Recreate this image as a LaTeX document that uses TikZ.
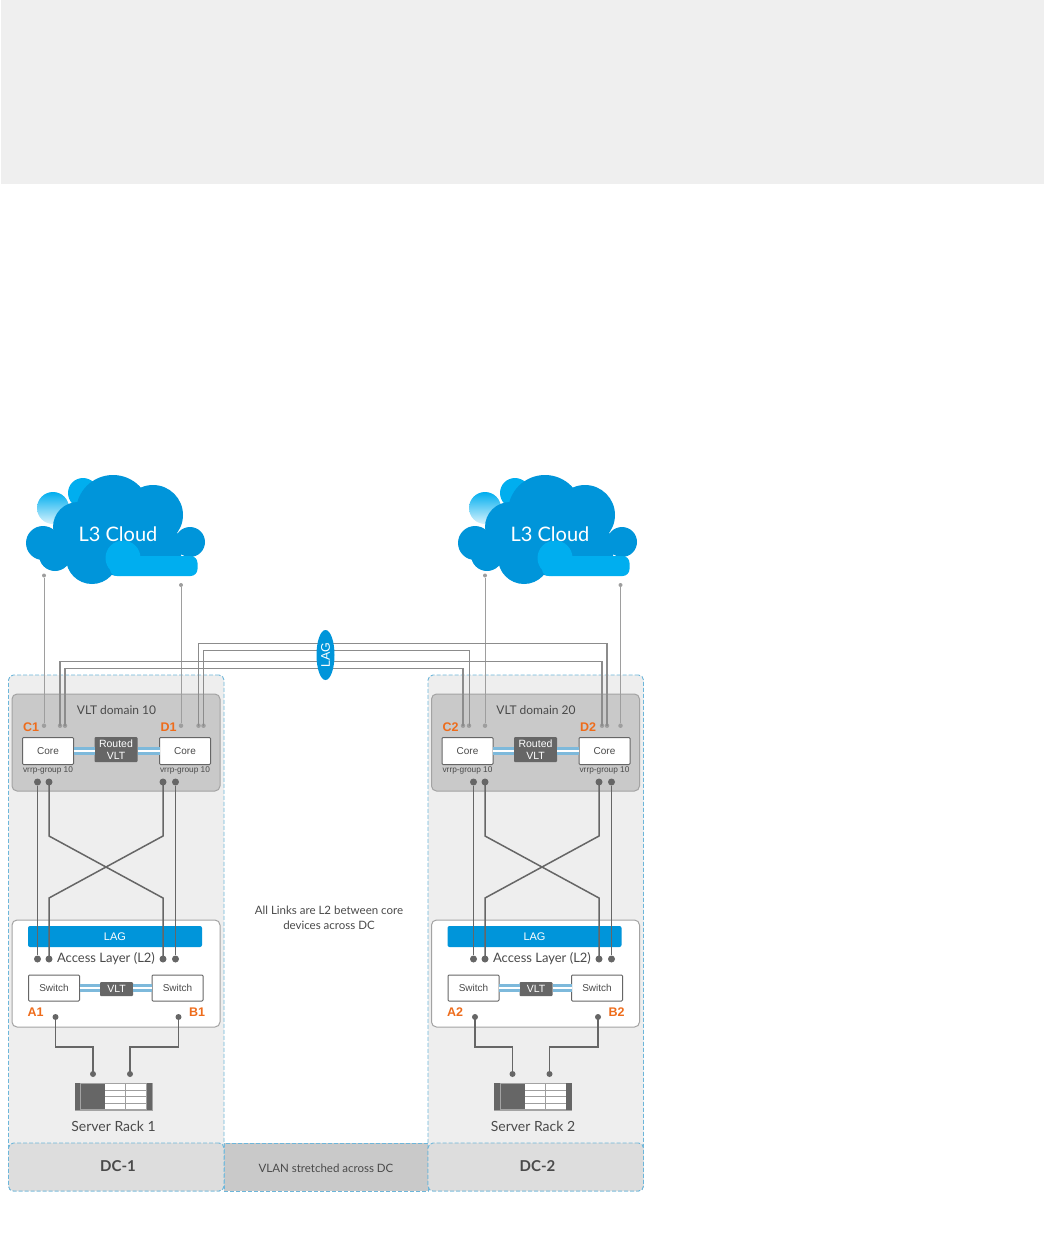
\documentclass[tikz,border=0pt]{standalone}
\usepackage{fontspec}
\setmainfont{Lato}
\newfontfamily\arialfont{Liberation Sans}
\usetikzlibrary{calc, shapes.geometric}
\definecolor{bandfill}{HTML}{EFEFEF}
\definecolor{dashline}{HTML}{6DB6DA}
\definecolor{panelfill}{HTML}{EEEEEE}
\definecolor{bandgray}{HTML}{DDDDDD}
\definecolor{midgray}{HTML}{C9C9C9}
\definecolor{boxline}{HTML}{A3A3A3}
\definecolor{cloudblue}{HTML}{0095DA}
\definecolor{cloudlight}{HTML}{00AEEF}
\definecolor{orangelbl}{HTML}{EE6C1B}
\definecolor{wiredark}{HTML}{666666}
\definecolor{wiremid}{HTML}{8C8C8C}
\definecolor{wirelight}{HTML}{9E9E9E}
\definecolor{textgray}{HTML}{4A4A4A}
\definecolor{vltblue}{HTML}{7DB9DB}
\tikzset{
  sized/.style  = {rectangle, inner sep=0pt, outer sep=0pt, minimum width=#1},
  panel/.style  = {sized=215.5pt, minimum height=516pt, rounded corners=5pt, fill=panelfill,
                   draw=dashline, line width=0.9pt, dash pattern=on 4pt off 2pt},
  dcband/.style = {sized=215.5pt, minimum height=48pt, rounded corners=5pt, fill=bandgray,
                   draw=dashline, line width=0.9pt, dash pattern=on 4pt off 2pt},
  vltdomain/.style = {sized=208pt, minimum height=97pt, rounded corners=5pt, fill=midgray,
                   draw=boxline, line width=1pt},
  accessbox/.style = {sized=208pt, minimum height=107pt, rounded corners=5pt, fill=white,
                   draw=boxline, line width=1pt},
  dev/.style    = {sized=#1, minimum height=27pt, rounded corners=1pt, fill=white,
                   draw=wiredark, line width=1pt, font=\arialfont\fontsize{10}{12}\selectfont, text=textgray},
  vltbox/.style = {sized=#1, rounded corners=1pt, fill=wiredark, text=white, align=center,
                   font=\arialfont\fontsize{10.5}{11.5}\selectfont},
  lagbar/.style = {sized=174pt, minimum height=21pt, rounded corners=2pt, fill=cloudblue, text=white,
                   font=\arialfont\fontsize{11}{13}\selectfont},
  orangetag/.style = {font=\arialfont\bfseries\fontsize{12.5}{14}\selectfont, text=orangelbl},
  lbl/.style    = {font=\fontsize{#1}{14.5}\selectfont, text=textgray, align=center},
  vrrp/.style   = {font=\arialfont\fontsize{8.3}{10}\selectfont, text=textgray},
  bigdot/.style = {circle, fill=wiredark, minimum size=7pt, inner sep=0pt},
  smalldot/.style = {circle, fill=wirelight, minimum size=4.5pt, inner sep=0pt},
  wirelink/.style = {line width=#1, draw=wiredark},
  laglink/.style = {line width=#1, draw=wiremid},
  uplink/.style = {line width=1pt, draw=wirelight},
  vltlink/.style = {draw=vltblue, line width=3.6pt, double=white, double distance=1.3pt},
}
\begin{document}
\begin{tikzpicture}[x=1pt, y=-1pt]
	\useasboundingbox (0,0) rectangle (1044,1242);
	\node[sized=1043pt, minimum height=184pt, fill=bandfill] (topband) at (522.5,92) {};
	\node[sized=204pt, minimum height=48pt, fill=midgray, draw=dashline, line width=0.9pt, dash pattern=on 4pt off 2pt] (vlanband) at (326,1167) {};
	\foreach \dc/\dx/\lx/\cx/\upc/\cpa/\cpb/\upd/\dpa/\dpb/\dom/\lw in {
		1/0/0/0/44/60/65/181/198.5/203.5/10/1,
		2/419.5/16.5/432/65.5/43.5/49.5/201/182.5/187.5/20/1.8}{
		\begin{scope}[shift={(\dx,0)}]
			\node[panel] (panel\dc) at (116.25,933) {};
			\node[dcband] (dcband\dc) at (116.25,1167) {};
			\node[vltdomain] (domain\dc) at (116,742.5) {};
			\node[accessbox] (access\dc) at (116,973.5) {};
			\node[lbl=12] (domlbl\dc) at (116.5,710.5) {VLT domain \dom};
			\node[dev=51pt] (corea\dc) at (48,751) {Core};
			\node[dev=51pt] (coreb\dc) at (185,751) {Core};
			\node[vltbox=43pt, minimum height=25pt] (rvlt\dc) at (116,749.5) {Routed\\VLT};
			\draw[vltlink] (corea\dc.east) -- (rvlt\dc.west |- corea\dc.east);
			\draw[vltlink] (rvlt\dc.east |- coreb\dc.west) -- (coreb\dc.west);
			\node[orangetag] (tagc\dc) at (31,727.5) {C\dc};
			\node[orangetag] (tagd\dc) at (168.5,727.5) {D\dc};
			\node[vrrp] (vrrpa\dc) at (48,770) {vrrp-group 10};
			\node[vrrp] (vrrpb\dc) at (185,770) {vrrp-group 10};
			\node[smalldot] (upc\dc) at (\upc,725.7) {};
			\node[smalldot] (cpa\dc) at (\cpa,725.7) {};
			\node[smalldot] (cpb\dc) at (\cpb,725.7) {};
			\node[smalldot] (upd\dc) at (\upd,725.7) {};
			\node[smalldot] (dpa\dc) at (\dpa,725.7) {};
			\node[smalldot] (dpb\dc) at (\dpb,725.7) {};
			\node[lagbar] (lag\dc) at (115,936.5) {LAG};
			\node[lbl=13] (acclbl\dc) at (106+\lx,958.5) {Access Layer (L2)};
			\node[dev=51pt, minimum height=26pt] (swa\dc) at (54,988) {Switch};
			\node[dev=51pt, minimum height=26pt] (swb\dc) at (177.5,988) {Switch};
			\node[vltbox=33pt, minimum height=14pt] (swvlt\dc) at (116.5,989) {VLT};
			\draw[vltlink] (swa\dc.east) -- (swvlt\dc.west |- swa\dc.east);
			\draw[vltlink] (swvlt\dc.east |- swb\dc.west) -- (swb\dc.west);
			\node[orangetag] (taga\dc) at (35.5,1012.5) {A\dc};
			\node[orangetag] (tagb\dc) at (197,1012.5) {B\dc};
			\node[bigdot, minimum size=6pt] (swda\dc) at (55.5,1017) {};
			\node[bigdot, minimum size=6pt] (swdb\dc) at (178.5,1017) {};
			\node[bigdot, minimum size=6pt] (rka\dc) at (93,1074) {};
			\node[bigdot, minimum size=6pt] (rkb\dc) at (130,1074) {};
			\draw[wirelink=1.5pt] (swda\dc.center) -- ++(0,30) -| (rka\dc.center);
			\draw[wirelink=1.5pt] (swdb\dc.center) -- ++(0,30) -| (rkb\dc.center);
			\node[sized=78pt, minimum height=28pt, fill=boxline] (rack\dc) at (113.5,1096.5) {};
			\node[sized=5.5pt, minimum height=27pt, fill=wiredark] (eara\dc) at (77.5,1096.5) {};
			\node[sized=5.5pt, minimum height=27pt, fill=wiredark] (earb\dc) at (149.5,1096.5) {};
			\node[sized=65pt, minimum height=25pt, fill=white] (rackin\dc) at (113.5,1096.5) {};
			\node[sized=24pt, minimum height=25pt, fill=wiredark] (rackdk\dc) at (93,1096.5) {};
			\foreach \ry in {1090.5,1096,1103}{
				\draw[line width=0.9pt, draw=wirelight] (105,\ry) -- (146,\ry);
			}
			\draw[line width=0.9pt, draw=wirelight] (125.7,1084) -- (125.7,1109);
			\node[lbl=14] (racklbl\dc) at (113.5,1126) {Server Rack \dc};
			\node[lbl=15] (dclbl\dc) at (118,1166) {\textbf{DC-\dc}};
			\node[bigdot] (ta\dc) at (37.5+\lx,782) {};
			\node[bigdot] (tb\dc) at (49+\lx,782) {};
			\node[bigdot] (tc\dc) at (163+\lx,782) {};
			\node[bigdot] (td\dc) at (175.5+\lx,782) {};
			\node[bigdot] (ba\dc) at (37.5+\lx,959) {};
			\node[bigdot] (bb\dc) at (49+\lx,959) {};
			\node[bigdot] (bc\dc) at (163+\lx,959) {};
			\node[bigdot] (bd\dc) at (175.5+\lx,959) {};
			\draw[wirelink=1.8pt] (ta\dc) -- (ba\dc);
			\draw[wirelink=\lw pt] (td\dc) -- (bd\dc);
			\draw[wirelink=1.5pt] (tb\dc.center) -- ++(0,54) -- ++(114,62) -- (bc\dc.center);
			\draw[wirelink=1.5pt] (tc\dc.center) -- ++(0,54) -- ++(-114,62) -- (bb\dc.center);
		\end{scope}
		\begin{scope}[shift={(\cx,0)}]
			\shade[top color=cloudlight, bottom color=cloudlight!15] (53,508) circle[radius=16pt];
			\fill[cloudlight] (83,493) circle[radius=15pt];
			\foreach \px/\py/\pr in {113/512/37, 153/515/30, 78/527/25, 43/543/17, 55/555/16,
				92/558/26, 120/543/33, 190/542/15, 163/547/20, 150/560/15}{
				\fill[cloudblue] (\px,\py) circle[radius=\pr pt];
			}
			\fill[cloudlight] (123,558) circle[radius=17.5pt];
			\fill[cloudlight, rounded corners=7pt] (110,556) rectangle (197.5,576);
			\node[font=\fontsize{20}{24}\selectfont, text=white] (cloud\dc) at (118,534) {L3 Cloud};
		\end{scope}
		\node[smalldot, minimum size=4pt] (tipc\dc) at (upc\dc |- 0,575.5) {};
		\node[smalldot, minimum size=4pt] (tipd\dc) at (upd\dc |- 0,585) {};
		\draw[uplink] (upc\dc) -- (tipc\dc);
		\draw[uplink] (upd\dc) -- (tipd\dc);
	}
	\draw[laglink=1.4pt] (dpa1.center) -- ++(0,-82) -| (dpb2.center);
	\draw[laglink=1pt] (dpb1.center) -- ++(0,-75.7) -| (cpb2.center);
	\draw[laglink=1.4pt] (cpa1.center) -- ++(0,-64) -| (dpa2.center);
	\draw[laglink=1.4pt] (cpb1.center) -- ++(0,-57.4) -| (cpa2.center);
	\node[ellipse, fill=cloudblue, minimum width=18pt, minimum height=50pt, inner sep=0pt] (lagmid) at (325.5,655) {};
	\node[rotate=90, font=\arialfont\fontsize{12.5}{14}\selectfont, text=white] (laglbl) at (325.5,655) {LAG};
	\node[lbl=11.5] (linkslbl) at (329,918) {All Links are L2 between core\\devices across DC};
	\node[lbl=11.5] (vlanlbl) at (326,1168) {VLAN stretched across DC};
\end{tikzpicture}
\end{document}
